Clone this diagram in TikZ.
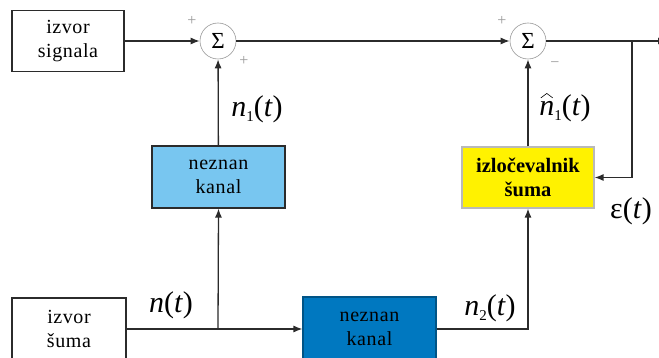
\documentclass[tikz,border=0pt]{standalone}
\usepackage{fontspec}
\setmainfont{Liberation Serif}
\usetikzlibrary{arrows.meta}
\definecolor{lblue}{HTML}{78C6F0}
\definecolor{dblue}{HTML}{0078C0}
\definecolor{yel}{HTML}{FFF200}
\definecolor{edgec}{HTML}{2B2B2B}
\newcommand\lsub[1]{\raisebox{-5pt}{\fontsize{15}{15}\selectfont #1}}
\newcommand\nhat{\ooalign{\textit{n}\cr\hidewidth\raisebox{17pt}{\tikz[x=1pt,y=1pt]\draw[line width=0.6pt] (0,0)--(6,4.5)--(12,0);}\hidewidth\cr}}
\begin{document}
\begin{tikzpicture}[x=1pt,y=-1pt,
  blk/.style={draw=edgec, line width=1.1pt, align=center, inner sep=0pt,
    font=\fontsize{20}{23.5}\selectfont\addfontfeature{LetterSpace=3}},
  sumc/.style={circle, draw=gray!80, line width=0.6pt, minimum size=36pt, inner sep=0pt,
    font=\fontsize{23}{23}\selectfont},
  conn/.style={draw=edgec, line width=1.3pt},
  arr/.style={conn, -{Latex[length=9pt,width=7pt]}},
  lbl/.style={font=\fontsize{30}{32}\selectfont, inner sep=0pt},
  sgn/.style={text=gray!80, font=\fontsize{16}{16}\selectfont, inner sep=0pt}]
\clip (0,0) rectangle (659,358);
\useasboundingbox (0,0) rectangle (659,358);
\fill[white] (0,0) rectangle (659,358);

\node[blk, minimum width=112pt, minimum height=61pt] (sig) at (68,41) {izvor\\signala};
\node[sumc] (s1) at (218,41) {Σ};
\node[sumc] (s2) at (528,41) {Σ};
\node[blk, fill=lblue, minimum width=133pt, minimum height=62pt] (k1) at (218.5,177) {neznan\\kanal};
\node[blk, fill=yel, draw=gray!55, minimum width=132pt, minimum height=61pt,
  font=\fontsize{20.5}{23.5}\selectfont\bfseries] (iz) at (528,177.5) {izločevalnik\\šuma};
\node[blk, fill=dblue, draw=dblue!70!black, minimum width=133pt, minimum height=64pt] (k2) at (369.5,329) {neznan\\kanal};
\node[blk, minimum width=114pt, minimum height=62pt] (sum) at (69,329) {izvor\\šuma};

\node[sgn] (p1) at (192,21) {+};
\node[sgn] (p2) at (244,61) {+};
\node[sgn] (p3) at (502,21) {+};
\node[sgn] (m1) at (555,65) {−};

\coordinate (br) at (632,41);
\coordinate (out) at (667,41);
\coordinate (j) at (218,329);

\draw[arr] (sig) -- (s1);
\draw[arr] (s1) -- (s2);
\draw[arr] (s2) -- (out);
\draw[arr] (br) |- (iz.east);
\draw[arr] (k1) -- (s1);
\draw[arr] (iz) -- (s2);
\draw[arr] (sum.east) -- (k2.west);
\draw[arr] (j) -- (k1.south);
\draw[arr] (k2.east) -| (iz.south);

\node[lbl] (ln1) at (257,109) {\textit{n}\lsub{1}(\textit{t})};
\node[lbl] (lnh) at (565,108) {\nhat\lsub{1}(\textit{t})};
\node[lbl] (ln) at (171,305) {\textit{n}(\textit{t})};
\node[lbl] (ln2) at (490,308) {\textit{n}\lsub{2}(\textit{t})};
\node[lbl] (le) at (631,211) {ε(\textit{t})};
\end{tikzpicture}
\end{document}
